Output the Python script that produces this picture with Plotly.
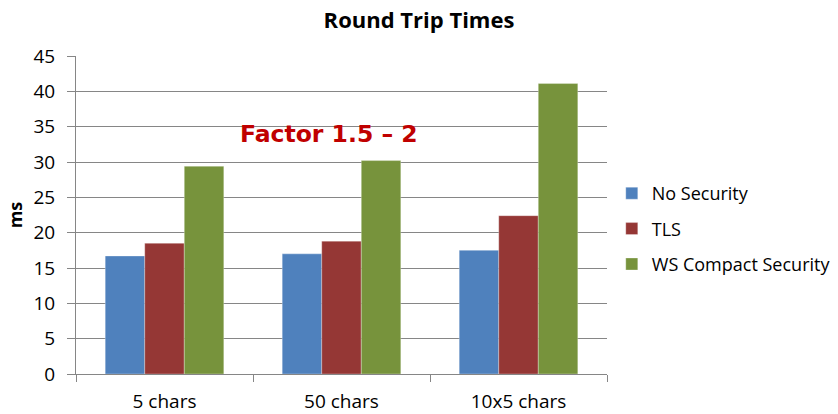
import plotly.graph_objects as go

categories = ["5 chars", "50 chars", "10x5 chars"]
no_security = [16.7, 17.0, 17.5]
tls = [18.5, 18.8, 22.4]
ws_compact = [29.4, 30.2, 41.1]

series = [
    ("No Security", no_security, "#4F81BD"),
    ("TLS", tls, "#953735"),
    ("WS Compact Security", ws_compact, "#77933C"),
]

FONT = "'Open Sans', Lato, sans-serif"

fig = go.Figure()
for name, vals, color in series:
    fig.add_trace(go.Bar(
        x=categories, y=vals, name=name, legendgroup=name,
        marker=dict(color=color, line=dict(color="rgba(255,255,255,0.5)", width=0.6)),
    ))

fig.update_layout(
    width=838, height=414,
    margin=dict(l=76, r=231, t=56, b=40, autoexpand=False),
    paper_bgcolor="white", plot_bgcolor="white",
    barmode="group", bargap=0.33, bargroupgap=0,
    title=dict(text="<b>Round Trip Times</b>", x=0.5, xanchor="center", y=0.952,
               yanchor="middle", font=dict(family=FONT, size=22, color="black")),
    font=dict(family=FONT, size=19, color="black"),
    legend=dict(x=1.009, xanchor="left", y=0.456, yanchor="middle",
                font=dict(family=FONT, size=18), tracegroupgap=9,
                itemwidth=30, bgcolor="rgba(0,0,0,0)"),
    showlegend=True,
)

fig.update_xaxes(
    type="category", showgrid=False, showline=True, linecolor="#868686", linewidth=1,
    ticks="outside", tickson="boundaries", ticklen=7, tickcolor="#868686",
    tickfont=dict(family=FONT, size=19), range=[-0.5, 2.5], ticklabelstandoff=10,
)
fig.update_yaxes(
    range=[0, 45], dtick=5, showgrid=True, gridcolor="#868686", gridwidth=1,
    showline=True, linecolor="#868686", linewidth=1,
    ticks="outside", ticklen=8, tickcolor="#868686",
    tickfont=dict(family=FONT, size=19), zeroline=False, ticklabelstandoff=8,
    title=dict(text="<b>ms</b>", font=dict(family=FONT, size=18), standoff=6),
)

fig.add_annotation(
    x=0.93, y=34.0, xref="x", yref="y", text="<b>Factor 1.5 – 2</b>",
    showarrow=False, font=dict(family="'DejaVu Sans', Arial, sans-serif", size=23.5, color="#C00000"),
)

fig.write_html("out.html")
